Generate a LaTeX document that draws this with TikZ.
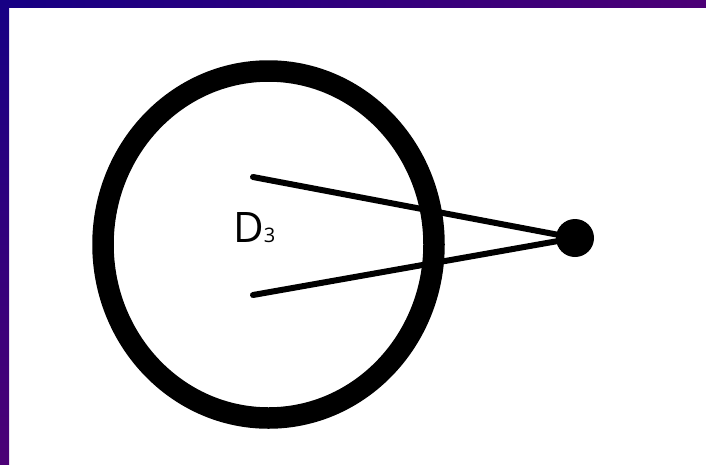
\documentclass[tikz,border=0pt]{standalone}
\usepackage{fontspec}
\newfontfamily\labelfont{Open Sans}
\definecolor{frameblue}{RGB}{22,0,132}
\definecolor{framepurple}{RGB}{76,0,118}
\begin{document}
\begin{tikzpicture}[x=1pt,y=-1pt]
  \useasboundingbox (0,0) rectangle (706,464);
  % Frame
  \shade[left color=frameblue,right color=framepurple] (0,0) rectangle (706,7);
  \shade[top color=frameblue,bottom color=framepurple] (0,0) rectangle (9,464);
  % Ring
  \draw[line width=21.5pt] (268.5,244.5) ellipse[x radius=165.5,y radius=173.5];
  % Label
  \node[anchor=base west,inner sep=0pt,font=\labelfont\fontsize{42}{42}\selectfont] (dlabel) at (233,242) {D\fontsize{20}{20}\selectfont 3};
  % Point and its two lines
  \node[circle,fill,inner sep=0pt,minimum size=38pt] (tip) at (575,238) {};
  \coordinate (upper) at (253,177);
  \coordinate (lower) at (253,295);
  \draw[line width=6pt,line cap=round] (upper) -- (tip);
  \draw[line width=6pt,line cap=round] (lower) -- (tip);
\end{tikzpicture}
\end{document}
